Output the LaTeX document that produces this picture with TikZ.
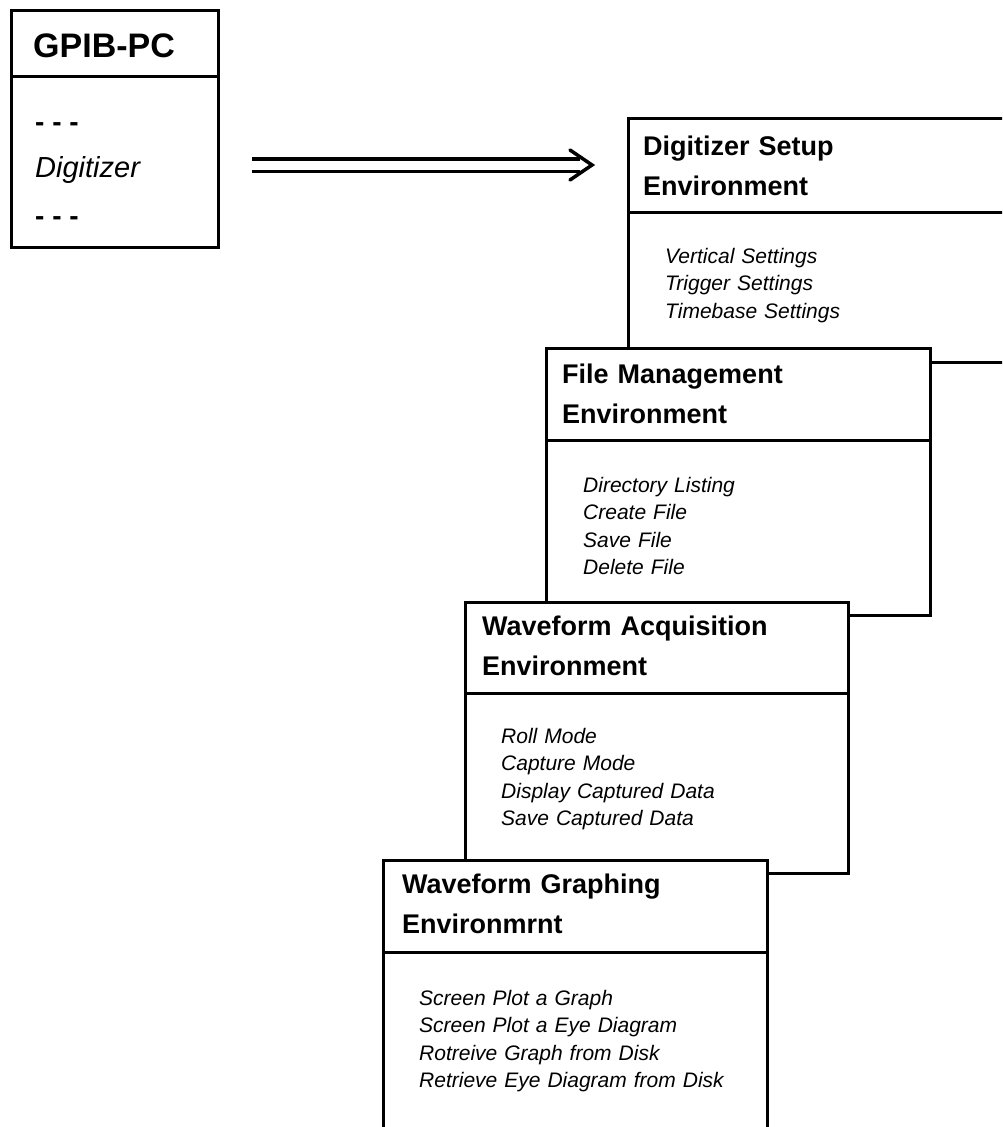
\documentclass[tikz,border=0pt]{standalone}
\usepackage{fontspec}
\setmainfont{Liberation Sans}
\begin{document}
\begin{tikzpicture}[x=1pt,y=-1pt,
  box/.style={draw, line width=3pt, fill=white, rectangle, anchor=north west, inner sep=0pt, outer sep=0pt, minimum width=384pt},
  divider/.style={line width=3pt},
  head/.style={anchor=base west, inner sep=0pt, text width=360pt, align=left, font=\bfseries\fontsize{27}{40}\selectfont},
  items/.style={anchor=base west, inner sep=0pt, text width=340pt, align=left, font=\itshape\fontsize{21}{27.5}\selectfont},
  conn/.style={line width=3.5pt}]
\useasboundingbox (0,0) rectangle (1002,1127);
\clip (0,0) rectangle (1002,1127);
\fill[white] (0,0) rectangle (1002,1127);

% GPIB-PC box
\node[box, minimum width=207pt, minimum height=237pt] (gpib) at (11,10) {};
\draw[divider] ([yshift=-66pt]gpib.north west) -- ([yshift=-66pt]gpib.north east);
\node[anchor=base west, inner sep=0pt, font=\bfseries\fontsize{34}{40}\selectfont] (gpibt) at (33,57) {GPIB-PC};
\node[anchor=base west, inner sep=0pt, font=\bfseries\fontsize{28}{30}\selectfont] (dash1) at (35,131) {- - -};
\node[anchor=base west, inner sep=0pt, font=\itshape\fontsize{29}{32}\selectfont] (digt) at (35,177) {Digitizer};
\node[anchor=base west, inner sep=0pt, font=\bfseries\fontsize{28}{30}\selectfont] (dash2) at (35,225) {- - -};

% arrow
\coordinate (a1) at (252,165);
\coordinate (a2) at (592,165);
\draw[conn, double distance=9pt] (a1) -- ([xshift=-12pt]a2);
\draw[conn, line cap=round] ([shift={(-22pt,15pt)}]a2) -- (a2) -- ([shift={(-22pt,-15pt)}]a2);

% Digitizer Setup
\node[box, minimum height=244pt] (dig) at (628,118) {};
\draw[divider] ([yshift=-94pt]dig.north west) -- ([yshift=-94pt]dig.north east);
\node[head] (digh) at (643,155) {Digitizer Setup\\Environment};
\node[items] (digi) at (665,263) {Vertical Settings\\Trigger Settings\\Timebase Settings};

% File Management
\node[box, minimum height=267pt] (file) at (546,348) {};
\draw[divider] ([yshift=-92pt]file.north west) -- ([yshift=-92pt]file.north east);
\node[head] (fileh) at (562,383) {File Management\\Environment};
\node[items] (filei) at (583,492) {Directory Listing\\Create File\\Save File\\Delete File};

% Waveform Acquisition
\node[box, minimum width=383pt, minimum height=271pt] (acq) at (465,602) {};
\draw[divider] ([yshift=-91pt]acq.north west) -- ([yshift=-91pt]acq.north east);
\node[head] (acqh) at (482,635) {Waveform Acquisition\\Environment};
\node[items] (acqi) at (501,743) {Roll Mode\\Capture Mode\\Display Captured Data\\Save Captured Data};

% Waveform Graphing
\node[box, minimum height=300pt] (graph) at (383,860) {};
\draw[divider] ([yshift=-92pt]graph.north west) -- ([yshift=-92pt]graph.north east);
\node[head] (graphh) at (402,893) {Waveform Graphing\\Environmrnt};
\node[items] (graphi) at (419,1005) {Screen Plot a Graph\\Screen Plot a Eye Diagram\\Rotreive Graph from Disk\\Retrieve Eye Diagram from Disk};
\end{tikzpicture}
\end{document}
